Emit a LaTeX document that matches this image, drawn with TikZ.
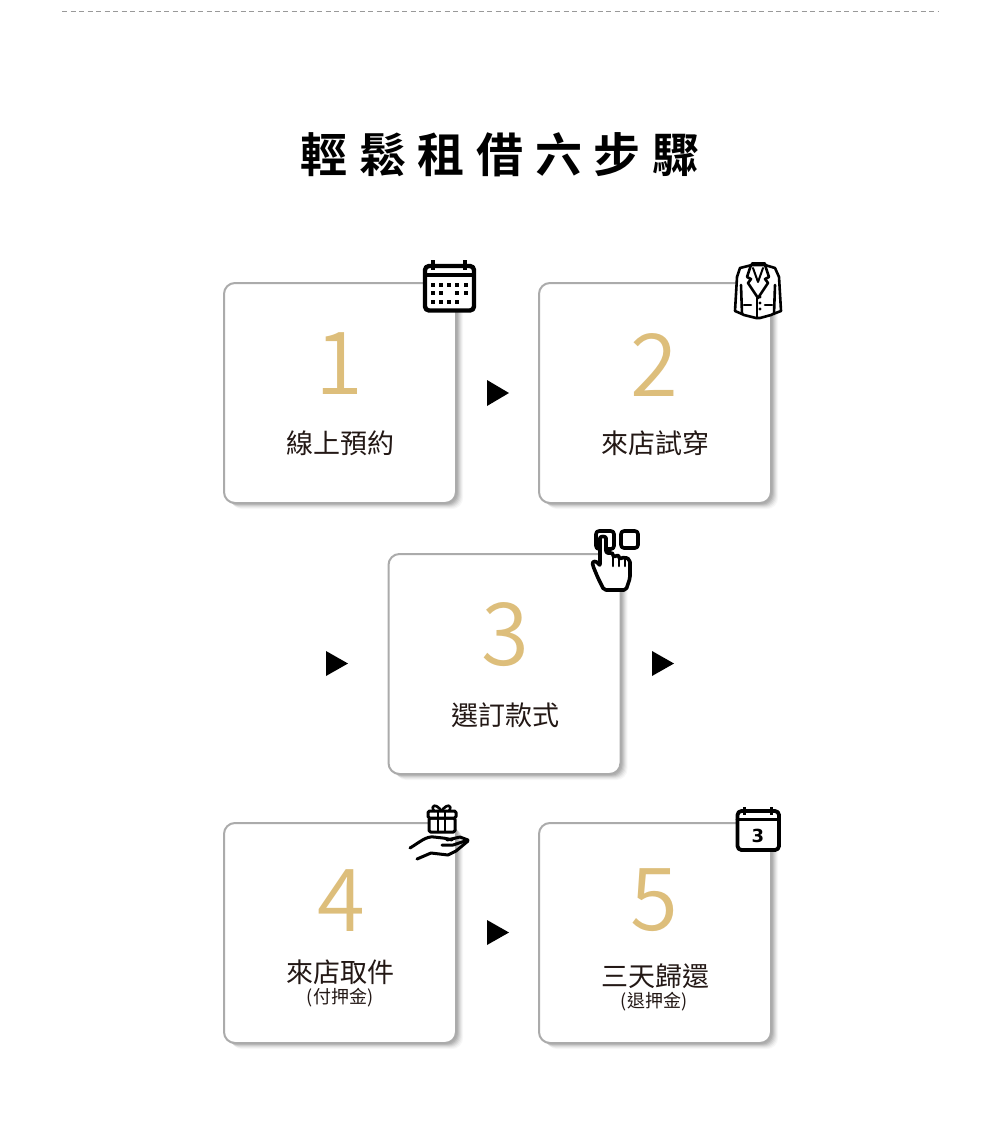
\documentclass[tikz,border=0pt]{standalone}
\usepackage{fontspec}
\setmainfont{Noto Sans CJK TC}
\newfontfamily\titlef{Noto Sans CJK TC Bold}
\newfontfamily\numf{Noto Sans CJK TC DemiLight}
\newfontfamily\iconf{DejaVu Sans Bold}
\definecolor{gold}{HTML}{DDBE7B}
\definecolor{ink}{HTML}{231815}
\definecolor{edge}{HTML}{ABABAB}
\tikzset{
 x=1pt,y=-1pt,
 card/.style={draw=edge,line width=2pt,fill=white,rounded corners=11pt,minimum width=232pt,minimum height=220pt,inner sep=0pt,
  preaction={fill=black,opacity=.03,transform canvas={xshift=7pt,yshift=-6pt}},
  preaction={fill=black,opacity=.04,transform canvas={xshift=6pt,yshift=-5pt}},
  preaction={fill=black,opacity=.05,transform canvas={xshift=5pt,yshift=-4pt}},
  preaction={fill=black,opacity=.06,transform canvas={xshift=4pt,yshift=-3.2pt}},
  preaction={fill=black,opacity=.07,transform canvas={xshift=3pt,yshift=-2.4pt}},
  preaction={fill=black,opacity=.08,transform canvas={xshift=2pt,yshift=-1.6pt}}},
 numtext/.style={text=gold,font=\numf\fontsize{87}{87}\selectfont,inner sep=0pt},
 labeltext/.style={text=ink,font=\fontsize{27}{27}\selectfont,inner sep=0pt},
 subtext/.style={text=ink,font=\fontsize{18}{18}\selectfont,inner sep=0pt},
 marker/.style={fill=black},
 ico/.style={draw=black,line width=3.6pt,line join=round,line cap=round},
 thin ico/.style={draw=black,line width=2.6pt,line join=round,line cap=round}
}
\begin{document}
\begin{tikzpicture}
\useasboundingbox (0,0) rectangle (1000,1135);
\fill[white] (0,0) rectangle (1000,1135);
\coordinate (dashL) at (62,11);
\coordinate (dashR) at (938,11);
\draw[gray!80,line width=.8pt,dash pattern=on 5pt off 3.5pt] (dashL) -- (dashR);
\node[inner sep=0pt,font=\titlef\fontsize{47}{47}\selectfont] (title) at (500,155) {輕\hspace{11.7pt}鬆\hspace{11.7pt}租\hspace{11.7pt}借\hspace{11.7pt}六\hspace{11.7pt}步\hspace{11.7pt}驟};
% cards
\node[card] (c1) at (340,393) {};
\node[card] (c2) at (655,393) {};
\node[card] (c3) at (504.5,664) {};
\node[card] (c4) at (340,933) {};
\node[card] (c5) at (655,933) {};
% numbers
\node[numtext] (n1) at (339,364) {1};
\node[numtext] (n2) at (654,365) {2};
\node[numtext] (n3) at (505,635) {3};
\node[numtext] (n4) at (341,901) {4};
\node[numtext] (n5) at (654,900) {5};
% labels
\node[labeltext] (l1) at (340,443) {線上預約};
\node[labeltext] (l2) at (655,443) {來店試穿};
\node[labeltext] (l3) at (505,715) {選訂款式};
\node[labeltext] (l4) at (340,972) {來店取件};
\node[subtext] (s4) at (340,998) {(付押金)};
\node[labeltext] (l5) at (655,976) {三天歸還};
\node[subtext] (s5) at (654,1002) {(退押金)};
% triangles
\fill[marker] (487,380) -- (509,393) -- (487,406) -- cycle;
\fill[marker] (326,651) -- (348,663.5) -- (326,676) -- cycle;
\fill[marker] (652,651) -- (674,663.5) -- (652,676) -- cycle;
\fill[marker] (487,920) -- (509,932.5) -- (487,945) -- cycle;
% calendar icon (card 1)
\draw[ico,fill=white,line width=4.4pt,rounded corners=4pt] (425,266) rectangle (474,310.5);
\draw[ico,line width=3.4pt] (425,275) -- (474,275);
\draw[black,line width=4.4pt] (433,260) -- (433,270) (465,260) -- (465,270);
\foreach \px/\py in {433/285,441/285,449/285,457/285,466/285,433/293,441/293,457/293,466/293,433/302,441/302,449/302,457/302}
  \fill (\px-2.1,\py-2.1) rectangle (\px+2.1,\py+2.1);
% jacket icon (card 2)
\draw[thin ico,fill=white] (752,265) -- (765,265) -- (775,268) -- (779,277) -- (781,311) -- (773,314) -- (771,315) -- (760,318) -- (756,318) -- (744,315) -- (742,314) -- (735,311) -- (737,277) -- (740,268) -- cycle;
\draw[thin ico] (752,263.5) -- (765,263.5);
\draw[thin ico] (751,265) -- (747,277) -- (751,279) -- (748,283) -- (758,298) -- (768,283) -- (765,279) -- (769,277) -- (765,265);
\draw[thin ico,line width=2pt] (753,268) -- (758,282) -- (763,268);
\draw[thin ico] (742,314) -- (741,285) (774,314) -- (775,285);
\draw[thin ico] (744,305) -- (751,305) (765,305) -- (772,305);
\draw[thin ico] (757,298) -- (757,318);
\foreach \py in {297,303,309} \fill (760,\py) circle (1.6pt);
% pointer icon (card 3)
\draw[ico,fill=white,rounded corners=3pt] (596,531) rectangle (614,549);
\draw[ico,fill=white,rounded corners=3pt] (621,531) rectangle (638,548);
\draw[ico,fill=white,rounded corners=2pt] (600,556) -- (600,540) .. controls (600,536) and (606,536) .. (606,540) -- (606,553) -- (613,553) -- (613,557) -- (619,555) -- (619,559) -- (625,557) -- (630,560) -- (630,578) -- (626,590) -- (604,590) -- (598,578) -- (593,566) .. controls (592,561) and (596,560) .. (600,566) -- cycle;
\draw[ico,line width=2.6pt] (613,553) -- (613,566) (619,556) -- (619,566) (625,558) -- (625,566);
% gift + hand (card 4)
\draw[thin ico,line width=3pt,fill=white,rounded corners=1.5pt] (429,818) rectangle (455,832);
\draw[thin ico,line width=3pt,fill=white,rounded corners=1.5pt] (428,811) rectangle (456,818);
\draw[thin ico,line width=2.6pt] (438,811) -- (438,832) (445,811) -- (445,832);
\draw[thin ico,line width=2.6pt] (441.5,811) .. controls (436,803) and (430,805) .. (434,811);
\draw[thin ico,line width=2.6pt] (441.5,811) .. controls (447,803) and (453,805) .. (449,811);
\draw[thin ico,line width=3pt] (410,848) .. controls (420,842) and (426,836) .. (434,837) .. controls (442,838) and (446,838) .. (452,840);
\draw[thin ico,line width=3pt] (442,845) -- (453,845) -- (468,840) -- (460,837) -- (447,840);
\draw[thin ico,line width=3pt] (417,859) -- (431,853) -- (448,855) -- (456,851) -- (468,841);
% calendar 3 (card 5)
\draw[ico,fill=white,line width=3.8pt,rounded corners=4pt] (737.5,811) rectangle (779,850);
\draw[ico,line width=3pt] (737,819) -- (779,819);
\draw[black,line width=3pt] (744,807) -- (744,815) (771,807) -- (771,815);
\node[inner sep=0pt,font=\iconf\fontsize{18}{18}\selectfont] (cal3) at (758,836) {3};
\end{tikzpicture}
\end{document}
